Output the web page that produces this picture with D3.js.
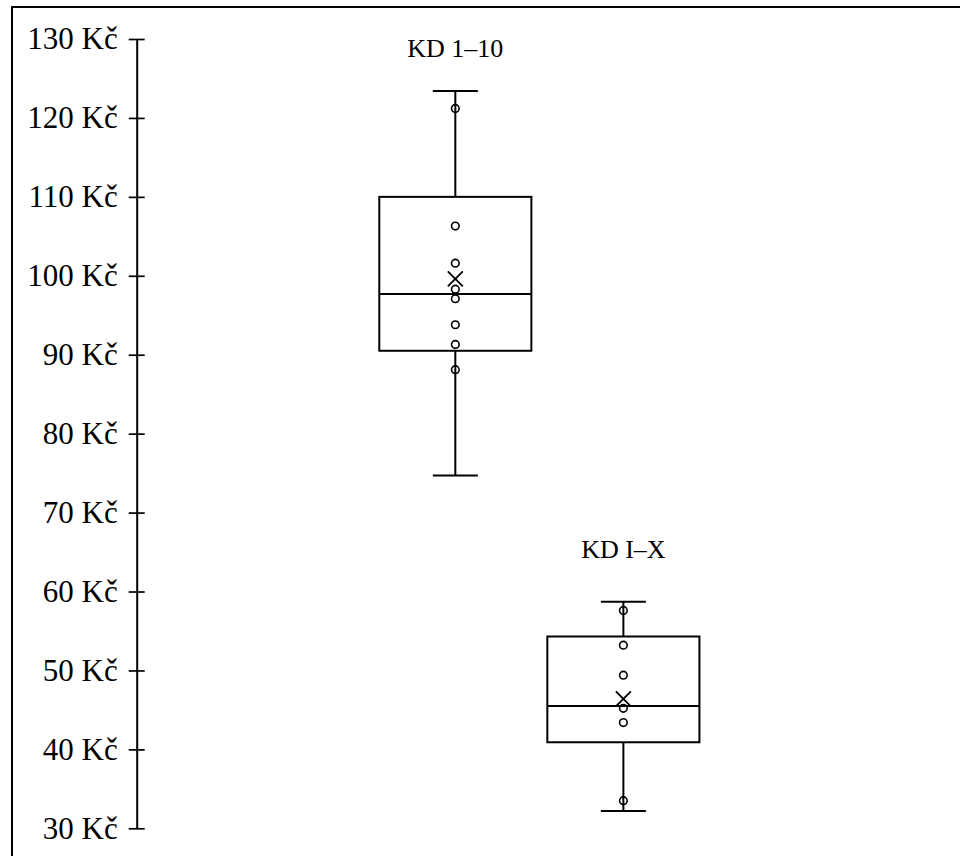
<!DOCTYPE html>
<html>
<head>
<meta charset="utf-8">
<script src="https://cdn.jsdelivr.net/npm/d3@7"></script>
<style>
  html, body { margin: 0; padding: 0; background: #fff; }
  svg { display: block; }
</style>
</head>
<body>
<svg id="chart" width="960" height="856"></svg>
<script>
// ---- data ----
const categories = ["KD 1–10", "KD I–X"];
const whiskerMin = [74.7, 32.2];
const q1 = [90.5, 40.9];
const median = [97.7, 45.5];
const q3 = [110.0, 54.3];
const whiskerMax = [123.4, 58.7];
const means = [99.6, 46.4];
const pointsKD1 = [121.2, 106.3, 101.6, 98.3, 97.1, 93.8, 91.3, 88.1];
const pointsKD2 = [57.6, 53.2, 49.4, 45.2, 43.4, 33.5];
const labelValues = [127.7, 64.3];
const tickValues = [30, 40, 50, 60, 70, 80, 90, 100, 110, 120, 130];
const currencySuffix = " Kč";

const points = [pointsKD1, pointsKD2];
const boxes = categories.map((c, i) => ({
  name: c, min: whiskerMin[i], q1: q1[i], med: median[i], q3: q3[i],
  max: whiskerMax[i], mean: means[i], pts: points[i], label: labelValues[i]
}));

// ---- layout ----
const svg = d3.select("#chart");
const axisX = 136.7, plotRight = 942;
const y = d3.scaleLinear().domain([30, 130]).range([828.3, 39]);
const x = d3.scaleBand().domain(categories).range([axisX, plotRight])
  .paddingInner(0).paddingOuter(1.396);
const boxW = x.bandwidth() * 0.905;
const capW = 45;
const font = "'Liberation Serif', 'Times New Roman', serif";

// outer frame
svg.append("rect").attr("x", 12).attr("y", 7).attr("width", 1000).attr("height", 900)
  .attr("fill", "none").attr("stroke", "#000").attr("stroke-width", 2);

// axis
const axis = d3.axisLeft(y).tickValues(tickValues).tickSizeOuter(0).tickSizeInner(8)
  .tickPadding(11).tickFormat(d => d + currencySuffix);
const gAxis = svg.append("g").attr("transform", `translate(${axisX},0)`).call(axis);
gAxis.select(".domain").attr("stroke-width", 2);
gAxis.selectAll(".tick line").attr("x1", -8).attr("x2", 8).attr("stroke-width", 1.7);
gAxis.selectAll(".tick text").attr("font-family", font).attr("font-size", 31)
  .attr("fill", "#000");

// boxes
const g = svg.selectAll("g.box").data(boxes).join("g").attr("class", "box")
  .attr("transform", d => `translate(${x(d.name) + x.bandwidth() / 2},0)`);

g.append("line").attr("x1", 0).attr("x2", 0)
  .attr("y1", d => y(d.max)).attr("y2", d => y(d.q3))
  .attr("stroke", "#000").attr("stroke-width", 2);
g.append("line").attr("x1", 0).attr("x2", 0)
  .attr("y1", d => y(d.q1)).attr("y2", d => y(d.min))
  .attr("stroke", "#000").attr("stroke-width", 2);
g.append("line").attr("x1", -capW / 2).attr("x2", capW / 2)
  .attr("y1", d => y(d.max)).attr("y2", d => y(d.max))
  .attr("stroke", "#000").attr("stroke-width", 2);
g.append("line").attr("x1", -capW / 2).attr("x2", capW / 2)
  .attr("y1", d => y(d.min)).attr("y2", d => y(d.min))
  .attr("stroke", "#000").attr("stroke-width", 2);
g.append("rect").attr("x", -boxW / 2).attr("width", boxW)
  .attr("y", d => y(d.q3)).attr("height", d => y(d.q1) - y(d.q3))
  .attr("fill", "none").attr("stroke", "#000").attr("stroke-width", 2);
g.append("line").attr("x1", -boxW / 2).attr("x2", boxW / 2)
  .attr("y1", d => y(d.med)).attr("y2", d => y(d.med))
  .attr("stroke", "#000").attr("stroke-width", 2);

// points
g.selectAll("circle").data(d => d.pts).join("circle")
  .attr("cx", 0).attr("cy", v => y(v)).attr("r", 3.8)
  .attr("fill", "none").attr("stroke", "#000").attr("stroke-width", 1.6);

// mean marker
g.append("path")
  .attr("d", d => { const cy = y(d.mean), s = 7.5; return `M${-s},${cy - s}L${s},${cy + s}M${-s},${cy + s}L${s},${cy - s}`; })
  .attr("stroke", "#000").attr("stroke-width", 1.8).attr("fill", "none");

// labels
g.append("text").attr("x", 0).attr("y", d => y(d.label))
  .attr("text-anchor", "middle").attr("font-family", font).attr("font-size", 26)
  .attr("fill", "#000").text(d => d.name);
</script>
</body>
</html>
